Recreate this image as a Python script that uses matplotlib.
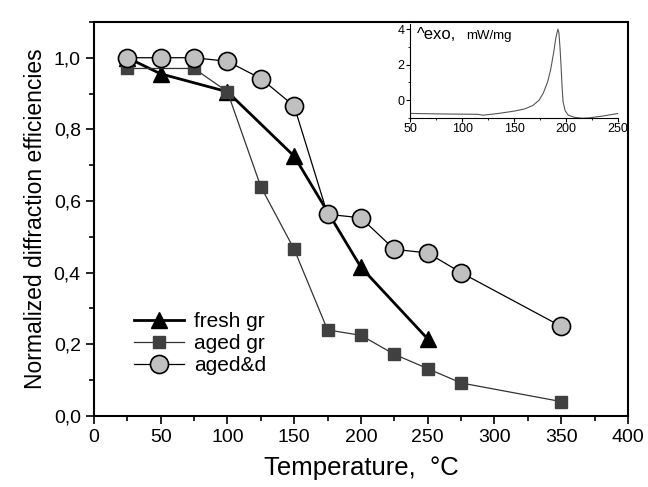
import numpy as np
import matplotlib
matplotlib.use("Agg")
import matplotlib.pyplot as plt
from matplotlib.ticker import MultipleLocator

plt.rcParams['font.family'] = ['Liberation Sans', 'DejaVu Sans']

# ==========================================
# Data
# ==========================================

temp_fresh = [25, 50, 100, 150, 200, 250]
eff_fresh = [1.0, 0.955, 0.905, 0.725, 0.415, 0.215]

temp_aged = [25, 75, 100, 125, 150, 175, 200, 225, 250, 275, 350]
eff_aged = [0.97, 0.97, 0.905, 0.64, 0.465, 0.24, 0.225, 0.172, 0.132, 0.092, 0.04]

temp_aged_d = [25, 50, 75, 100, 125, 150, 175, 200, 225, 250, 275, 350]
eff_aged_d = [1.0, 1.0, 1.0, 0.99, 0.942, 0.865, 0.563, 0.553, 0.465, 0.455, 0.40, 0.25]

labels = ["fresh gr", "aged gr", "aged&d"]

# DSC curve (inset)
dsc_temp = [50, 80, 115, 120, 135, 150, 160, 168, 174, 178, 182, 185, 188,
            190, 192, 193, 194, 195, 196, 197, 199, 202, 208, 215, 222, 235, 250]
dsc_heat = [-0.75, -0.78, -0.8, -0.85, -0.75, -0.62, -0.5, -0.3, 0.0, 0.4,
            1.0, 1.7, 2.7, 3.5, 4.0, 3.8, 3.0, 2.0, 0.8, -0.1, -0.6, -0.85,
            -0.97, -1.02, -1.0, -0.9, -0.75]

# ==========================================
# Main plot
# ==========================================

fig = plt.figure(figsize=(6.48, 4.87), dpi=100)
ax = fig.add_axes([0.145, 0.146, 0.824, 0.809])

ax.plot(temp_aged_d, eff_aged_d, color="black", lw=0.9, marker="o", ms=13,
        mfc="#c0c0c0", mec="black", mew=1.2, label=labels[2], zorder=4)
ax.plot(temp_aged, eff_aged, color="#333333", lw=0.9, marker="s", ms=8,
        mfc="#404040", mec="#404040", label=labels[1], zorder=3)
ax.plot(temp_fresh, eff_fresh, color="black", lw=2.0, marker="^", ms=11,
        mfc="black", mec="black", label=labels[0], zorder=2)

ax.set_xlim(0, 400)
ax.set_ylim(0, 1.1)
ax.xaxis.set_major_locator(MultipleLocator(50))
ax.xaxis.set_minor_locator(MultipleLocator(25))
ax.yaxis.set_minor_locator(MultipleLocator(0.1))
ax.set_yticks(np.arange(0, 1.01, 0.2))
ax.set_yticklabels([f"{v:.1f}".replace(".", ",") for v in np.arange(0, 1.01, 0.2)])
ax.tick_params(which="major", direction="out", length=6, width=1.2, labelsize=14)
ax.tick_params(which="minor", direction="out", length=3.5, width=1.2)
for s in ax.spines.values():
    s.set_linewidth(1.5)

ax.set_xlabel("Temperature,  °C", fontsize=18.5, labelpad=7)
ax.set_ylabel("Normalized diffraction efficiencies", fontsize=16.5, labelpad=5)

handles, labs = ax.get_legend_handles_labels()
order = [2, 1, 0]
ax.legend([handles[i] for i in order], [labs[i] for i in order],
          loc="lower left", bbox_to_anchor=(0.04, 0.055), frameon=False,
          fontsize=15, handlelength=2.4, handletextpad=0.5, labelspacing=0.15)

# ==========================================
# Inset: DSC
# ==========================================

axin = fig.add_axes([0.633, 0.758, 0.321, 0.193])
axin.plot(dsc_temp, dsc_heat, color="#555555", lw=0.8)
axin.set_xlim(50, 250)
axin.set_ylim(-1, 4.3)
axin.xaxis.set_major_locator(MultipleLocator(50))
axin.xaxis.set_minor_locator(MultipleLocator(25))
axin.yaxis.set_major_locator(MultipleLocator(2))
axin.yaxis.set_minor_locator(MultipleLocator(1))
axin.tick_params(which="major", direction="out", length=3, labelsize=9, pad=1)
axin.tick_params(which="minor", direction="out", length=1.5)
axin.spines["top"].set_visible(False)
axin.spines["right"].set_visible(False)
axin.patch.set_alpha(0)
axin.text(0.03, 0.97, "^exo,", transform=axin.transAxes, fontsize=12,
          va="top", ha="left")
axin.text(0.27, 0.93, "mW/mg", transform=axin.transAxes, fontsize=9.5,
          va="top", ha="left")

plt.savefig("out.png", dpi=100)
plt.close()
